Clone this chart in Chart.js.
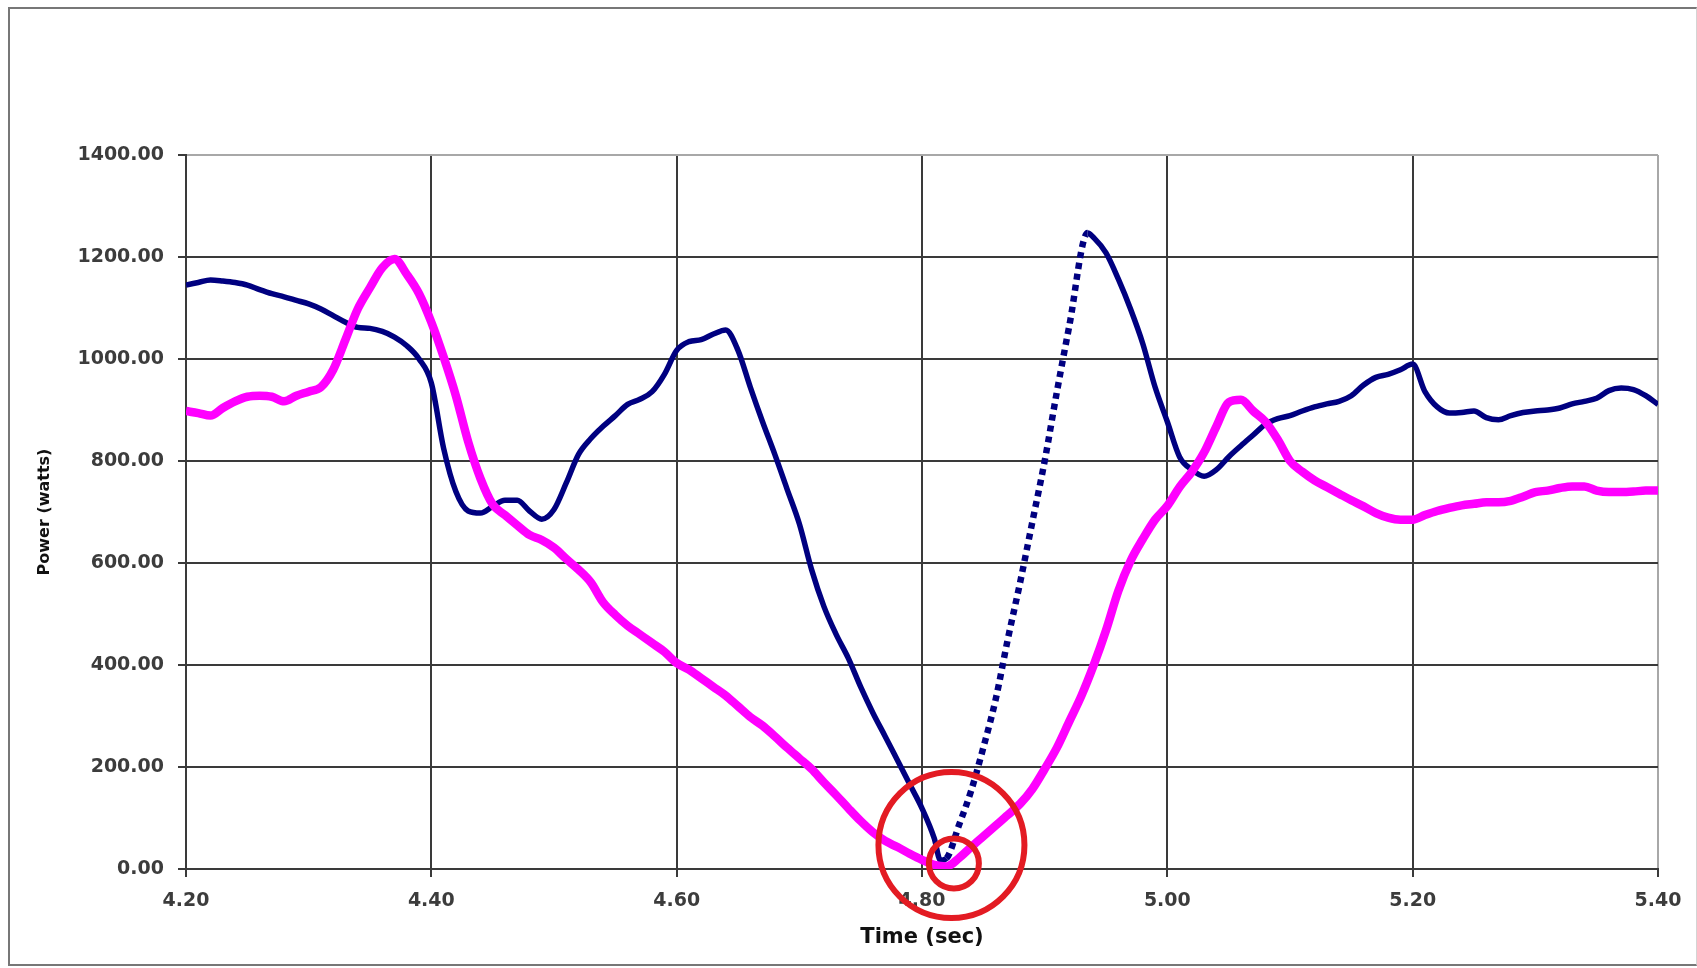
<!DOCTYPE html>
<html>
<head>
<meta charset="utf-8">
<script src="https://cdn.jsdelivr.net/npm/chart.js@4.4.1/dist/chart.umd.min.js"></script>
<style>
  html, body { margin: 0; padding: 0; background: #fff; overflow: hidden; }
  #wrap { position: relative; width: 1697px; height: 968px; }
  #frame {
    position: absolute; left: 8px; top: 7px; width: 1686px; height: 955px;
    border: 2px solid #777; border-right: 1px solid #d4d4d4;
    pointer-events: none;
  }
</style>
</head>
<body>
<div id="wrap">
  <canvas id="powerChart"></canvas>
  <div id="frame"></div>
</div>
<script>
// blue trace (time in sec, power in watts)
const navyTime = [
  4.20, 4.21, 4.22, 4.23, 4.24, 4.25, 4.26, 4.27, 4.28, 4.29,
  4.30, 4.31, 4.32, 4.33, 4.34, 4.35, 4.36, 4.37, 4.38, 4.39,
  4.40, 4.41, 4.42, 4.43, 4.44, 4.45, 4.46, 4.47, 4.48, 4.49,
  4.50, 4.51, 4.52, 4.53, 4.54, 4.55, 4.56, 4.57, 4.58, 4.59,
  4.60, 4.61, 4.62, 4.63, 4.64, 4.65, 4.66, 4.67, 4.68, 4.69,
  4.70, 4.71, 4.72, 4.73, 4.74, 4.75, 4.76, 4.77, 4.78, 4.79,
  4.80, 4.81, 4.815, 4.82, 4.83, 4.84, 4.85, 4.86, 4.87, 4.88, 4.89,
  4.90, 4.91, 4.92, 4.935, 4.94, 4.95, 4.96, 4.97, 4.98, 4.99,
  5.00, 5.01, 5.02, 5.03, 5.04, 5.05, 5.06, 5.07, 5.08, 5.09,
  5.10, 5.11, 5.12, 5.13, 5.14, 5.15, 5.16, 5.17, 5.18, 5.19,
  5.20, 5.21, 5.22, 5.23, 5.24, 5.25, 5.26, 5.27, 5.28, 5.29,
  5.30, 5.31, 5.32, 5.33, 5.34, 5.35, 5.36, 5.37, 5.38, 5.39, 5.40
];
const navyPower = [
  1145, 1150, 1155, 1153, 1150, 1145, 1136, 1128, 1122, 1115,
  1108, 1098, 1085, 1072, 1062, 1060, 1054, 1043, 1026, 1000,
  953, 825, 740, 702, 698, 711, 723, 723, 702, 686,
  705, 757, 813, 844, 868, 889, 911, 921, 936, 970,
  1017, 1034, 1038, 1049, 1057, 1017, 945, 877, 813, 745,
  677, 587, 515, 460, 413, 357, 306, 260, 213, 166,
  119, 60, 17, 21, 85, 153, 238, 332, 451, 562, 681,
  800, 936, 1064, 1247, 1238, 1208, 1157, 1098, 1030, 945,
  877, 808, 783, 770, 783, 808, 830, 851, 872, 883,
  889, 898, 906, 912, 917, 928, 949, 964, 970, 979,
  990, 936, 906, 894, 895, 898, 885, 881, 889, 895,
  898, 900, 904, 912, 917, 923, 938, 943, 940, 928, 911
];

// magenta trace
const pinkTime = [
  4.20, 4.21, 4.22, 4.23, 4.24, 4.25, 4.26, 4.27, 4.28, 4.29,
  4.30, 4.31, 4.32, 4.33, 4.34, 4.35, 4.36, 4.37, 4.38, 4.39,
  4.40, 4.41, 4.42, 4.43, 4.44, 4.45, 4.46, 4.47, 4.48, 4.49,
  4.50, 4.51, 4.52, 4.53, 4.54, 4.55, 4.56, 4.57, 4.58, 4.59,
  4.60, 4.61, 4.62, 4.63, 4.64, 4.65, 4.66, 4.67, 4.68, 4.69,
  4.70, 4.71, 4.72, 4.73, 4.74, 4.75, 4.76, 4.77, 4.78, 4.79,
  4.80, 4.81, 4.82, 4.83, 4.84, 4.85, 4.86, 4.87, 4.88, 4.89,
  4.90, 4.91, 4.92, 4.93, 4.94, 4.95, 4.96, 4.97, 4.98, 4.99,
  5.00, 5.01, 5.02, 5.03, 5.04, 5.05, 5.06, 5.07, 5.08, 5.09,
  5.10, 5.11, 5.12, 5.13, 5.14, 5.15, 5.16, 5.17, 5.18, 5.19,
  5.20, 5.21, 5.22, 5.23, 5.24, 5.25, 5.26, 5.27, 5.28, 5.29,
  5.30, 5.31, 5.32, 5.33, 5.34, 5.35, 5.36, 5.37, 5.38, 5.39, 5.40
];
const pinkPower = [
  898, 894, 889, 904, 917, 926, 928, 926, 917, 928,
  936, 945, 979, 1038, 1098, 1140, 1179, 1196, 1166, 1128,
  1072, 1004, 928, 838, 766, 715, 694, 674, 655, 645,
  630, 608, 587, 562, 523, 498, 477, 460, 443, 426,
  404, 391, 374, 357, 340, 319, 298, 281, 260, 238,
  217, 196, 170, 145, 119, 94, 72, 55, 43, 30,
  18, 8, 5, 21, 43, 64, 85, 106, 128, 157,
  196, 238, 289, 340, 400, 468, 545, 604, 647, 685,
  712, 749, 779, 817, 868, 915, 920, 898, 877, 842,
  800, 779, 762, 749, 736, 723, 711, 698, 689, 685,
  685, 694, 702, 708, 713, 716, 719, 719, 722, 730,
  739, 742, 747, 750, 750, 742, 739, 739, 740, 742, 742
];

// the two red rings drawn round the minimum (centre time, centre power)
const ringTime = [4.824, 4.826];
const ringPower = [47, 11];

// axes
const xTicks = [4.20, 4.40, 4.60, 4.80, 5.00, 5.20, 5.40];
const yTicks = [0, 200, 400, 600, 800, 1000, 1200, 1400];
const xTitle = 'Time (sec)';
const yTitle = 'Power (watts)';

function toPoints(xs, ys) {
  return xs.map((x, i) => ({ x: x, y: ys[i] }));
}

// the steep climb after the minimum shows up as separate markers in the original
function isClimb(seg) {
  return seg.p0.parsed.x >= 4.82 && seg.p1.parsed.x <= 4.935;
}

const gridColor = '#3a3a3a';
const edgeColor = '#a8a8a8';
const tickFont = { family: 'DejaVu Sans', size: 19, weight: 'bold' };

const ctx = document.getElementById('powerChart').getContext('2d');

new Chart(ctx, {
  type: 'scatter',
  data: {
    datasets: [
      {
        label: 'big ring',
        data: [{ x: ringTime[0], y: ringPower[0] }],
        showLine: false,
        pointRadius: 73,
        pointHoverRadius: 73,
        pointBorderWidth: 6,
        pointBackgroundColor: 'rgba(0,0,0,0)',
        pointBorderColor: '#e31b23',
        clip: false
      },
      {
        label: 'small ring',
        data: [{ x: ringTime[1], y: ringPower[1] }],
        showLine: false,
        pointRadius: 25,
        pointHoverRadius: 25,
        pointBorderWidth: 6,
        pointBackgroundColor: 'rgba(0,0,0,0)',
        pointBorderColor: '#e31b23',
        clip: false
      },
      {
        label: 'magenta',
        data: toPoints(pinkTime, pinkPower),
        showLine: true,
        borderColor: '#ff00ff',
        borderWidth: 8.5,
        pointRadius: 0,
        cubicInterpolationMode: 'monotone'
      },
      {
        label: 'navy',
        data: toPoints(navyTime, navyPower),
        showLine: true,
        borderColor: '#000080',
        borderWidth: 5.5,
        pointRadius: 0,
        cubicInterpolationMode: 'monotone',
        segment: {
          borderDash: seg => isClimb(seg) ? [6, 5] : undefined,
          borderWidth: seg => isClimb(seg) ? 6.5 : undefined
        }
      }
    ]
  },
  options: {
    responsive: true,
    maintainAspectRatio: false,
    animation: false,
    events: [],
    layout: {
      autoPadding: false,
      padding: { top: 155, right: 39, bottom: 0, left: 0 }
    },
    plugins: {
      legend: { display: false },
      tooltip: { enabled: false }
    },
    scales: {
      x: {
        type: 'linear',
        min: 4.2,
        max: 5.4,
        afterFit: scale => { scale.height = 99; },
        afterBuildTicks: scale => {
          scale.ticks = xTicks.map(v => ({ value: v }));
        },
        ticks: {
          color: '#3c3c3c',
          font: tickFont,
          padding: 13,
          maxRotation: 0,
          autoSkip: false,
          callback: v => Number(v).toFixed(2)
        },
        grid: {
          color: c => (c.tick && Math.abs(c.tick.value - 5.4) < 1e-6) ? edgeColor : gridColor,
          lineWidth: 2,
          tickLength: 8,
          tickColor: gridColor
        },
        border: { color: gridColor, width: 2 },
        title: {
          display: true,
          text: xTitle,
          color: '#111',
          font: { family: 'DejaVu Sans', size: 21, weight: 'bold' },
          padding: { top: 0, bottom: 18 }
        }
      },
      y: {
        min: 0,
        max: 1400,
        afterFit: scale => { scale.width = 186; },
        afterBuildTicks: scale => {
          scale.ticks = yTicks.map(v => ({ value: v }));
        },
        ticks: {
          color: '#3c3c3c',
          font: tickFont,
          padding: 14,
          callback: v => Number(v).toFixed(2)
        },
        grid: {
          color: c => (c.tick && c.tick.value === 1400) ? edgeColor : gridColor,
          lineWidth: 2,
          tickLength: 8,
          tickColor: gridColor
        },
        border: { color: gridColor, width: 2 },
        title: {
          display: true,
          text: yTitle,
          color: '#111',
          font: { family: 'DejaVu Sans', size: 16, weight: 'bold' },
          padding: { top: 35, bottom: 0 }
        }
      }
    }
  }
});
</script>
</body>
</html>
